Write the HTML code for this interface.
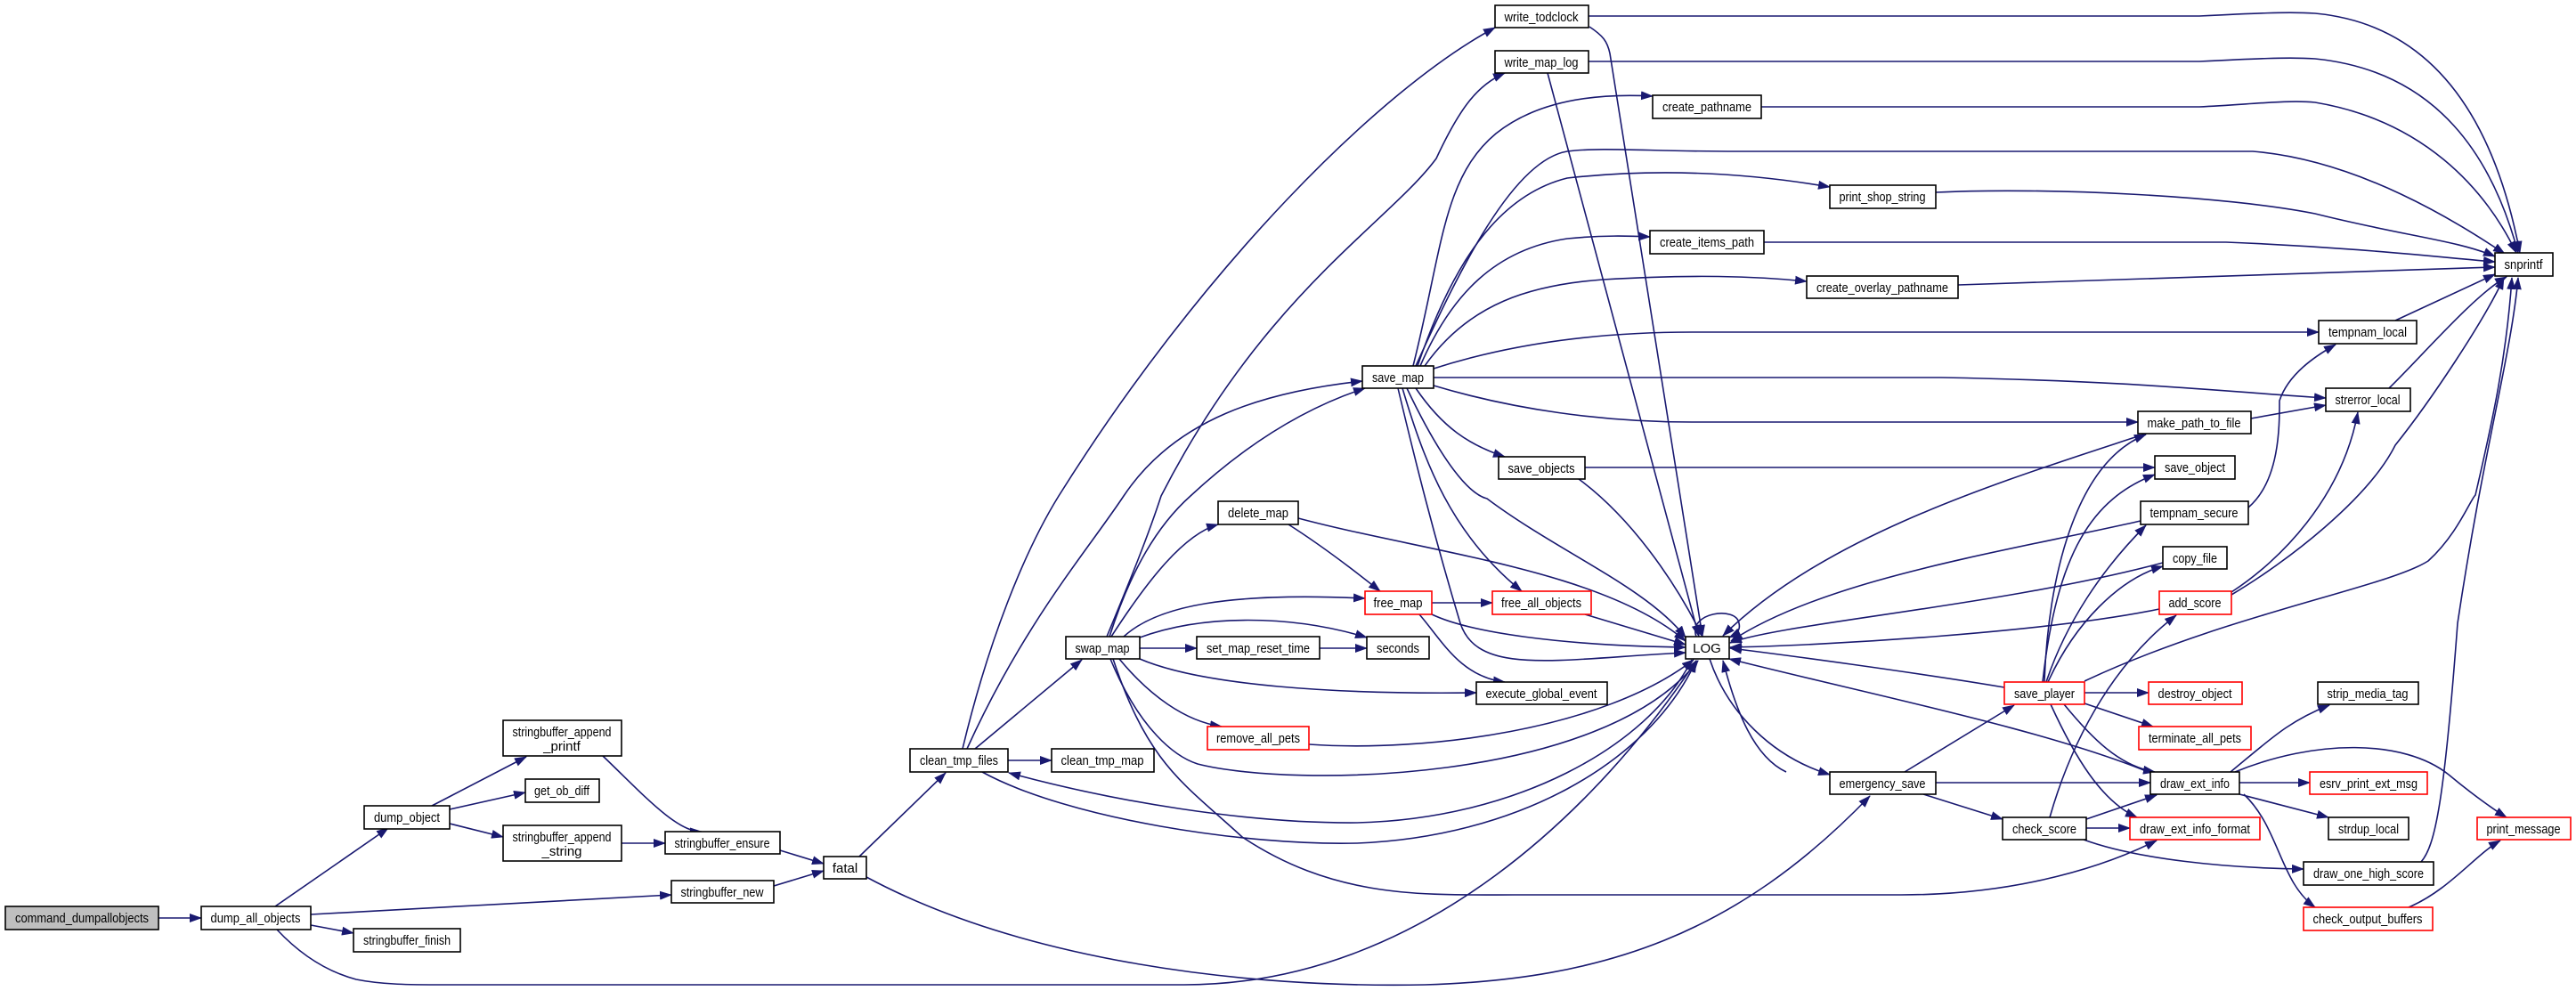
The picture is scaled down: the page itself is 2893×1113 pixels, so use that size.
<!DOCTYPE html>
<html><head><meta charset="utf-8"><style>
html,body{margin:0;padding:0;background:#fff;}
svg{display:block;}
text{font-family:"Liberation Sans",sans-serif;font-size:15px;fill:#000;}
.e{fill:none;stroke:#191970;stroke-width:1.6;}
.n{fill:#fff;stroke:#000;stroke-width:1.6;}
.r{fill:#fff;stroke:#ff0000;stroke-width:1.6;}
</style></head><body>
<svg width="2893" height="1113" viewBox="0 0 2893 1113" xmlns="http://www.w3.org/2000/svg">
<defs>
<marker id="a" markerWidth="14" markerHeight="10" refX="13" refY="5" orient="auto" markerUnits="userSpaceOnUse">
<path d="M0,0 L14,5 L0,10 Z" fill="#191970"/></marker>
</defs>
<g class="e" marker-end="url(#a)">
<path d="M178,1031 L226,1031"/>
<path d="M309,1018 L436,930"/>
<path d="M349,1027 L754,1005"/>
<path d="M349,1039 L397,1048"/>
<path d="M311,1044 C340,1075 370,1092 400,1100 C430,1106 460,1106 500,1106 L1330,1106 C1600,1106 1800,900 1905,742"/>
<path d="M973,985 C1150,1080 1400,1110 1600,1106 C1800,1100 1950,1050 2100,894"/>
<path d="M965,962 L1062,868"/>
<path d="M876,955 L925,970"/>
<path d="M869,995 L925,978"/>
<path d="M485,905 L591,850"/>
<path d="M505,909 L590,890"/>
<path d="M505,925 L565,940"/>
<path d="M698,947 L747,947"/>
<path d="M677,849 C720,890 760,935 788,934"/>
<path d="M1132,854 L1181,854"/>
<path d="M1095,841 L1215,741"/>
<path d="M1081,841 C1110,720 1150,620 1189,557 C1350,300 1550,100 1679,31"/>
<path d="M1086,841 C1150,700 1220,620 1262,557 C1320,470 1420,440 1530,428"/>
<path d="M1243,715 C1270,650 1290,600 1304,557 C1420,330 1560,250 1613,178 C1640,120 1660,95 1690,82"/>
<path d="M1246,715 C1270,640 1300,590 1337,557 C1420,480 1490,450 1533,436"/>
<path d="M1248,715 C1290,650 1330,600 1368,589"/>
<path d="M1262,715 C1300,680 1380,665 1533,672"/>
<path d="M1280,716 C1350,690 1450,690 1535,716"/>
<path d="M1280,728 L1344,728"/>
<path d="M1280,740 C1350,770 1500,780 1658,778"/>
<path d="M1257,740 C1290,780 1330,810 1372,816"/>
<path d="M1247,740 C1280,820 1320,850 1345,858 C1450,885 1800,880 1907,742"/>
<path d="M1250,740 C1290,860 1330,880 1395,940 C1500,1010 1600,1005 1700,1005 L2135,1005 C2250,1005 2350,980 2422,944"/>
<path d="M1103,867 C1200,920 1400,950 1524,947 C1700,940 1850,860 1905,742"/>
<path d="M1900,741 C1850,840 1700,920 1524,924 C1400,925 1250,900 1133,868"/>
<path d="M1447,589 C1480,610 1520,640 1550,664"/>
<path d="M1458,582 C1600,620 1800,640 1893,720"/>
<path d="M1608,677 L1676,677"/>
<path d="M1608,690 C1650,710 1750,725 1893,727"/>
<path d="M1594,690 C1620,720 1640,760 1690,766"/>
<path d="M1780,690 L1893,724"/>
<path d="M1470,836 C1600,845 1800,820 1902,741"/>
<path d="M1482,728 L1535,728"/>
<path d="M1784,18 L2470,18 C2530,15 2570,13 2600,15 C2760,30 2810,180 2830,284"/>
<path d="M1784,69 L2470,69 C2530,66 2570,64 2600,66 C2740,80 2800,180 2828,284"/>
<path d="M1978,120 L2470,120 C2530,117 2570,112 2600,115 C2720,135 2790,210 2826,284"/>
<path d="M1590,411 C1640,300 1700,180 1760,170 C1800,165 1850,170 1950,170 L2530,170 C2650,180 2760,250 2813,285"/>
<path d="M1587,411 C1620,280 1620,200 1680,150 C1730,110 1800,105 1856,108"/>
<path d="M1592,411 C1630,300 1680,220 1760,200 C1850,190 1950,192 2055,210"/>
<path d="M1595,411 C1630,330 1680,280 1760,268 C1800,264 1830,265 1853,266"/>
<path d="M1600,411 C1650,340 1720,320 1800,314 C1900,308 1970,310 2029,316"/>
<path d="M1610,414 C1700,385 1800,373 1900,373 L2604,373"/>
<path d="M1610,424 L2180,424 C2400,428 2500,440 2612,447"/>
<path d="M1610,433 C1700,460 1800,474 1900,474 L2401,474"/>
<path d="M1590,436 C1620,480 1650,500 1690,513"/>
<path d="M1580,436 C1620,520 1650,555 1670,560 C1750,620 1850,660 1893,716"/>
<path d="M1575,436 C1600,520 1630,600 1709,664"/>
<path d="M1570,436 C1590,520 1610,600 1640,700 C1660,760 1750,740 1893,733"/>
<path d="M1738,82 L1908,715"/>
<path d="M1785,30 C1800,40 1805,46 1808,60 L1912,715"/>
<path d="M1773,538 C1830,580 1880,650 1912,715"/>
<path d="M1780,525 L2420,525"/>
<path d="M2174,216 C2300,210 2500,220 2600,240 C2700,265 2760,270 2802,288"/>
<path d="M1981,272 L2500,272 C2650,278 2750,290 2802,294"/>
<path d="M2199,320 L2802,300"/>
<path d="M2690,360 L2802,308"/>
<path d="M2683,436 C2720,400 2780,330 2815,311"/>
<path d="M2341,765 C2500,690 2680,660 2727,630 C2760,600 2775,560 2780,556 C2800,470 2815,400 2821,312"/>
<path d="M2719,968 C2735,950 2745,900 2760,700 C2790,500 2820,400 2828,312"/>
<path d="M2506,668 C2570,630 2660,560 2690,500 C2730,450 2790,360 2812,312"/>
<path d="M2506,665 C2560,630 2630,560 2648,463"/>
<path d="M2525,570 C2560,540 2560,480 2560,450 C2570,420 2600,400 2623,387"/>
<path d="M2528,470 L2612,455"/>
<path d="M1920,740 C1940,800 1990,850 2055,870"/>
<path d="M2006,867 C1970,850 1950,800 1935,742"/>
<path d="M2251,772 C2150,755 2000,735 1943,728"/>
<path d="M2404,585 C2250,620 2050,650 1944,720"/>
<path d="M2429,632 C2250,680 2000,700 1943,722"/>
<path d="M2425,684 C2300,710 2050,725 1943,727"/>
<path d="M2415,868 C2300,820 2100,780 1942,740"/>
<path d="M2410,487 C2250,540 2050,600 1935,714"/>
<path d="M2298,766 C2320,700 2360,640 2410,590"/>
<path d="M2300,766 C2330,700 2380,650 2429,636"/>
<path d="M2296,766 C2300,650 2330,520 2410,488"/>
<path d="M2294,766 C2310,620 2350,560 2420,533"/>
<path d="M2341,778 L2413,778"/>
<path d="M2341,790 L2418,816"/>
<path d="M2318,791 C2350,830 2380,860 2420,867"/>
<path d="M2303,791 C2330,850 2360,900 2400,918"/>
<path d="M2139,867 L2262,792"/>
<path d="M2174,879 L2415,879"/>
<path d="M2160,892 L2249,920"/>
<path d="M2302,918 C2330,820 2380,740 2444,691"/>
<path d="M2343,920 L2422,893"/>
<path d="M2343,930 L2392,930"/>
<path d="M2340,943 C2400,965 2500,975 2587,976"/>
<path d="M2505,867 C2550,830 2570,810 2616,792"/>
<path d="M2510,867 C2600,830 2700,830 2750,870 C2780,895 2805,912 2815,918"/>
<path d="M2515,879 L2594,879"/>
<path d="M2515,892 L2615,918"/>
<path d="M2520,892 C2560,930 2560,990 2600,1019"/>
<path d="M2705,1019 C2750,1000 2780,960 2808,944"/>
<path d="M1905,715 C1895,688 1950,680 1953,700 C1955,708 1950,712 1942,716"/>
</g>
<g>
<rect x="6" y="1018" width="172" height="26" fill="#bfbfbf" stroke="#000" stroke-width="1.6"/>
<text x="92" y="1036" text-anchor="middle" textLength="150" lengthAdjust="spacingAndGlyphs">command_dumpallobjects</text>
<rect class="n" x="226" y="1018" width="123" height="26"/><text x="287" y="1036" text-anchor="middle" textLength="101" lengthAdjust="spacingAndGlyphs">dump_all_objects</text>
<rect class="n" x="409" y="905" width="96" height="26"/><text x="457" y="923" text-anchor="middle" textLength="74" lengthAdjust="spacingAndGlyphs">dump_object</text>
<rect class="n" x="565" y="809" width="133" height="40"/><text x="631" y="827" text-anchor="middle" textLength="111" lengthAdjust="spacingAndGlyphs">stringbuffer_append</text><text x="631" y="843" text-anchor="middle">_printf</text>
<rect class="n" x="590" y="875" width="83" height="26"/><text x="631" y="893" text-anchor="middle" textLength="62" lengthAdjust="spacingAndGlyphs">get_ob_diff</text>
<rect class="n" x="565" y="927" width="133" height="40"/><text x="631" y="945" text-anchor="middle" textLength="111" lengthAdjust="spacingAndGlyphs">stringbuffer_append</text><text x="631" y="961" text-anchor="middle">_string</text>
<rect class="n" x="747" y="934" width="129" height="25"/><text x="811" y="952" text-anchor="middle" textLength="107" lengthAdjust="spacingAndGlyphs">stringbuffer_ensure</text>
<rect class="n" x="925" y="962" width="48" height="25"/><text x="949" y="980" text-anchor="middle">fatal</text>
<rect class="n" x="754" y="989" width="115" height="25"/><text x="811" y="1007" text-anchor="middle" textLength="93" lengthAdjust="spacingAndGlyphs">stringbuffer_new</text>
<rect class="n" x="397" y="1043" width="120" height="26"/><text x="457" y="1061" text-anchor="middle" textLength="98" lengthAdjust="spacingAndGlyphs">stringbuffer_finish</text>
<rect class="n" x="1022" y="841" width="110" height="26"/><text x="1077" y="859" text-anchor="middle" textLength="88" lengthAdjust="spacingAndGlyphs">clean_tmp_files</text>
<rect class="n" x="1181" y="841" width="115" height="26"/><text x="1238" y="859" text-anchor="middle" textLength="93" lengthAdjust="spacingAndGlyphs">clean_tmp_map</text>
<rect class="n" x="1197" y="715" width="83" height="25"/><text x="1238" y="733" text-anchor="middle" textLength="61" lengthAdjust="spacingAndGlyphs">swap_map</text>
<rect class="n" x="1344" y="715" width="138" height="25"/><text x="1413" y="733" text-anchor="middle" textLength="116" lengthAdjust="spacingAndGlyphs">set_map_reset_time</text>
<rect class="n" x="1535" y="715" width="70" height="25"/><text x="1570" y="733" text-anchor="middle" textLength="48" lengthAdjust="spacingAndGlyphs">seconds</text>
<rect class="n" x="1368" y="563" width="90" height="26"/><text x="1413" y="581" text-anchor="middle" textLength="68" lengthAdjust="spacingAndGlyphs">delete_map</text>
<rect class="r" x="1533" y="664" width="75" height="26"/><text x="1570" y="682" text-anchor="middle" textLength="55" lengthAdjust="spacingAndGlyphs">free_map</text>
<rect class="r" x="1676" y="664" width="111" height="26"/><text x="1731" y="682" text-anchor="middle" textLength="90" lengthAdjust="spacingAndGlyphs">free_all_objects</text>
<rect class="n" x="1658" y="766" width="147" height="25"/><text x="1731" y="784" text-anchor="middle" textLength="125" lengthAdjust="spacingAndGlyphs">execute_global_event</text>
<rect class="r" x="1356" y="816" width="114" height="26"/><text x="1413" y="834" text-anchor="middle" textLength="94" lengthAdjust="spacingAndGlyphs">remove_all_pets</text>
<rect class="n" x="1530" y="411" width="80" height="25"/><text x="1570" y="429" text-anchor="middle" textLength="58" lengthAdjust="spacingAndGlyphs">save_map</text>
<rect class="n" x="1683" y="513" width="97" height="25"/><text x="1731" y="531" text-anchor="middle" textLength="75" lengthAdjust="spacingAndGlyphs">save_objects</text>
<rect class="n" x="1679" y="6" width="105" height="25"/><text x="1731" y="24" text-anchor="middle" textLength="83" lengthAdjust="spacingAndGlyphs">write_todclock</text>
<rect class="n" x="1679" y="57" width="105" height="25"/><text x="1731" y="75" text-anchor="middle" textLength="83" lengthAdjust="spacingAndGlyphs">write_map_log</text>
<rect class="n" x="1856" y="107" width="122" height="26"/><text x="1917" y="125" text-anchor="middle" textLength="100" lengthAdjust="spacingAndGlyphs">create_pathname</text>
<rect class="n" x="2055" y="208" width="119" height="26"/><text x="2114" y="226" text-anchor="middle" textLength="97" lengthAdjust="spacingAndGlyphs">print_shop_string</text>
<rect class="n" x="1853" y="259" width="128" height="26"/><text x="1917" y="277" text-anchor="middle" textLength="106" lengthAdjust="spacingAndGlyphs">create_items_path</text>
<rect class="n" x="2029" y="310" width="170" height="25"/><text x="2114" y="328" text-anchor="middle" textLength="148" lengthAdjust="spacingAndGlyphs">create_overlay_pathname</text>
<rect class="n" x="2802" y="284" width="65" height="26"/><text x="2834" y="302" text-anchor="middle" textLength="43" lengthAdjust="spacingAndGlyphs">snprintf</text>
<rect class="n" x="2604" y="360" width="110" height="26"/><text x="2659" y="378" text-anchor="middle" textLength="88" lengthAdjust="spacingAndGlyphs">tempnam_local</text>
<rect class="n" x="2612" y="436" width="95" height="26"/><text x="2659" y="454" text-anchor="middle" textLength="73" lengthAdjust="spacingAndGlyphs">strerror_local</text>
<rect class="n" x="2401" y="462" width="127" height="25"/><text x="2464" y="480" text-anchor="middle" textLength="105" lengthAdjust="spacingAndGlyphs">make_path_to_file</text>
<rect class="n" x="2420" y="512" width="90" height="26"/><text x="2465" y="530" text-anchor="middle" textLength="68" lengthAdjust="spacingAndGlyphs">save_object</text>
<rect class="n" x="2404" y="563" width="121" height="26"/><text x="2464" y="581" text-anchor="middle" textLength="99" lengthAdjust="spacingAndGlyphs">tempnam_secure</text>
<rect class="n" x="2429" y="614" width="72" height="25"/><text x="2465" y="632" text-anchor="middle" textLength="50" lengthAdjust="spacingAndGlyphs">copy_file</text>
<rect class="r" x="2425" y="664" width="81" height="26"/><text x="2465" y="682" text-anchor="middle" textLength="59" lengthAdjust="spacingAndGlyphs">add_score</text>
<rect class="n" x="1893" y="715" width="49" height="25"/><text x="1917" y="733" text-anchor="middle">LOG</text>
<rect class="r" x="2251" y="766" width="90" height="25"/><text x="2296" y="784" text-anchor="middle" textLength="68" lengthAdjust="spacingAndGlyphs">save_player</text>
<rect class="r" x="2413" y="766" width="105" height="25"/><text x="2465" y="784" text-anchor="middle" textLength="83" lengthAdjust="spacingAndGlyphs">destroy_object</text>
<rect class="r" x="2402" y="816" width="126" height="26"/><text x="2465" y="834" text-anchor="middle" textLength="104" lengthAdjust="spacingAndGlyphs">terminate_all_pets</text>
<rect class="n" x="2603" y="766" width="113" height="25"/><text x="2659" y="784" text-anchor="middle" textLength="91" lengthAdjust="spacingAndGlyphs">strip_media_tag</text>
<rect class="n" x="2055" y="867" width="119" height="25"/><text x="2114" y="885" text-anchor="middle" textLength="97" lengthAdjust="spacingAndGlyphs">emergency_save</text>
<rect class="n" x="2415" y="867" width="100" height="25"/><text x="2465" y="885" text-anchor="middle" textLength="78" lengthAdjust="spacingAndGlyphs">draw_ext_info</text>
<rect class="r" x="2594" y="867" width="132" height="25"/><text x="2660" y="885" text-anchor="middle" textLength="110" lengthAdjust="spacingAndGlyphs">esrv_print_ext_msg</text>
<rect class="n" x="2249" y="918" width="94" height="25"/><text x="2296" y="936" text-anchor="middle" textLength="72" lengthAdjust="spacingAndGlyphs">check_score</text>
<rect class="r" x="2392" y="918" width="146" height="25"/><text x="2465" y="936" text-anchor="middle" textLength="124" lengthAdjust="spacingAndGlyphs">draw_ext_info_format</text>
<rect class="n" x="2615" y="918" width="90" height="25"/><text x="2660" y="936" text-anchor="middle" textLength="68" lengthAdjust="spacingAndGlyphs">strdup_local</text>
<rect class="r" x="2782" y="918" width="105" height="25"/><text x="2834" y="936" text-anchor="middle" textLength="83" lengthAdjust="spacingAndGlyphs">print_message</text>
<rect class="n" x="2587" y="968" width="146" height="26"/><text x="2660" y="986" text-anchor="middle" textLength="124" lengthAdjust="spacingAndGlyphs">draw_one_high_score</text>
<rect class="r" x="2587" y="1019" width="145" height="26"/><text x="2659" y="1037" text-anchor="middle" textLength="123" lengthAdjust="spacingAndGlyphs">check_output_buffers</text>
</g>
</svg>
</body></html>
